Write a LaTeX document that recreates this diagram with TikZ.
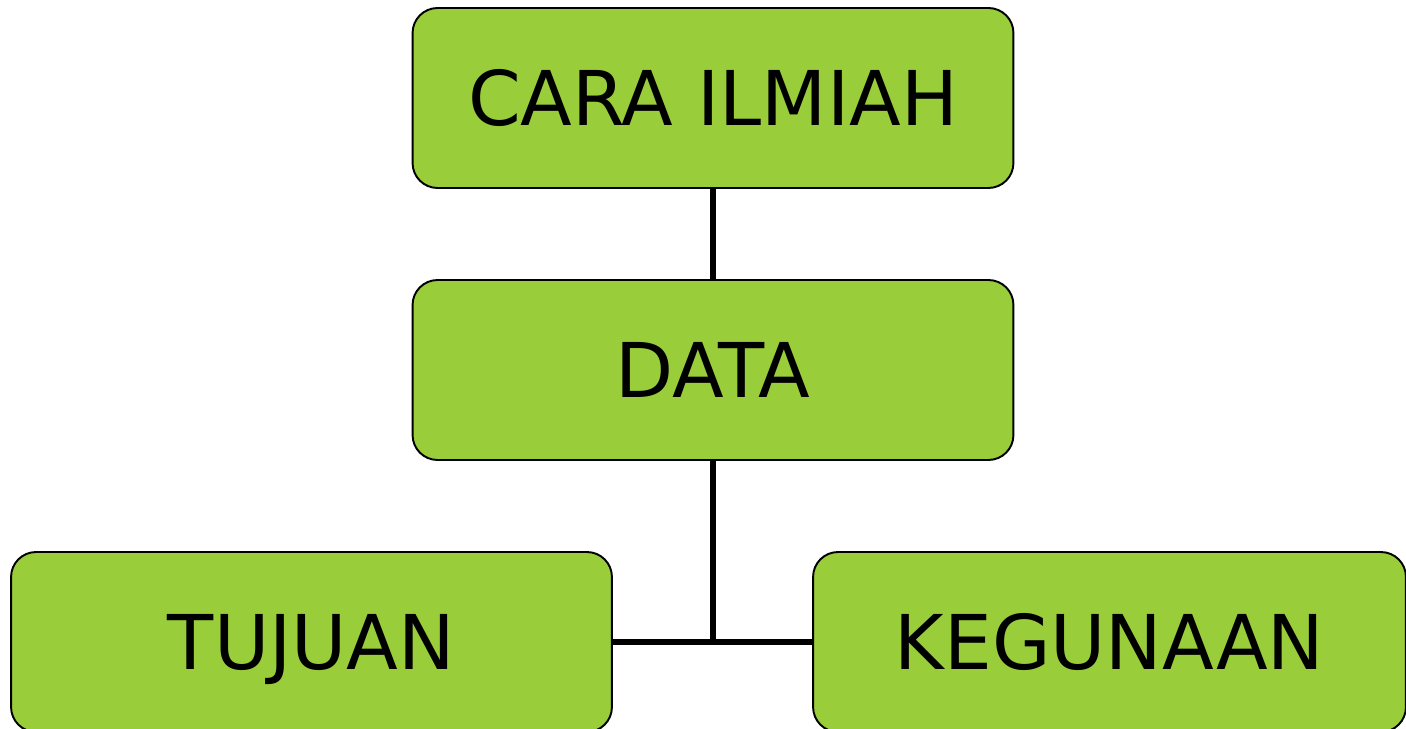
\documentclass[tikz,border=0pt]{standalone}
\usepackage{fontspec}
\setmainfont{DejaVu Sans}
\definecolor{boxgreen}{HTML}{9ACD3A}
\tikzset{
  ilmubox/.style={draw=black, line width=1.1pt, fill=boxgreen, rounded corners=0.5cm,
    minimum height=3.6cm, inner sep=0pt, text height=31.4pt, text depth=0pt,
    font=\fontsize{43}{51}\selectfont},
  link/.style={line width=3.1pt}
}

\begin{document}
\begin{tikzpicture}[x=0.02cm, y=-0.02cm]
    % Fix the page to the picture size
    \useasboundingbox (0, 0) rectangle (1406, 729);

    % Define the positions of the boxes
    \coordinate (caraPos) at (713, 98);
    \coordinate (dataPos) at (713, 370);
    \coordinate (tujuanPos) at (311.5, 642);
    \coordinate (gunaPos) at (1109.5, 642);

    % Draw the boxes
    \node[ilmubox, minimum width=12.02cm] (cara) at (caraPos) {CARA ILMIAH};
    \node[ilmubox, minimum width=12.02cm] (data) at (dataPos) {DATA};
    \node[ilmubox, minimum width=12.02cm] (tujuan) at (tujuanPos) {TUJUAN};
    \node[ilmubox, minimum width=11.86cm] (guna) at (gunaPos) {KEGUNAAN};

    % Draw the lines
    \coordinate (split) at (data |- tujuan.east);
    \draw[link] (cara) -- (data);
    \draw[link] (data) -- (split);
    \draw[link] (tujuan) -- (guna);
\end{tikzpicture}
\end{document}
